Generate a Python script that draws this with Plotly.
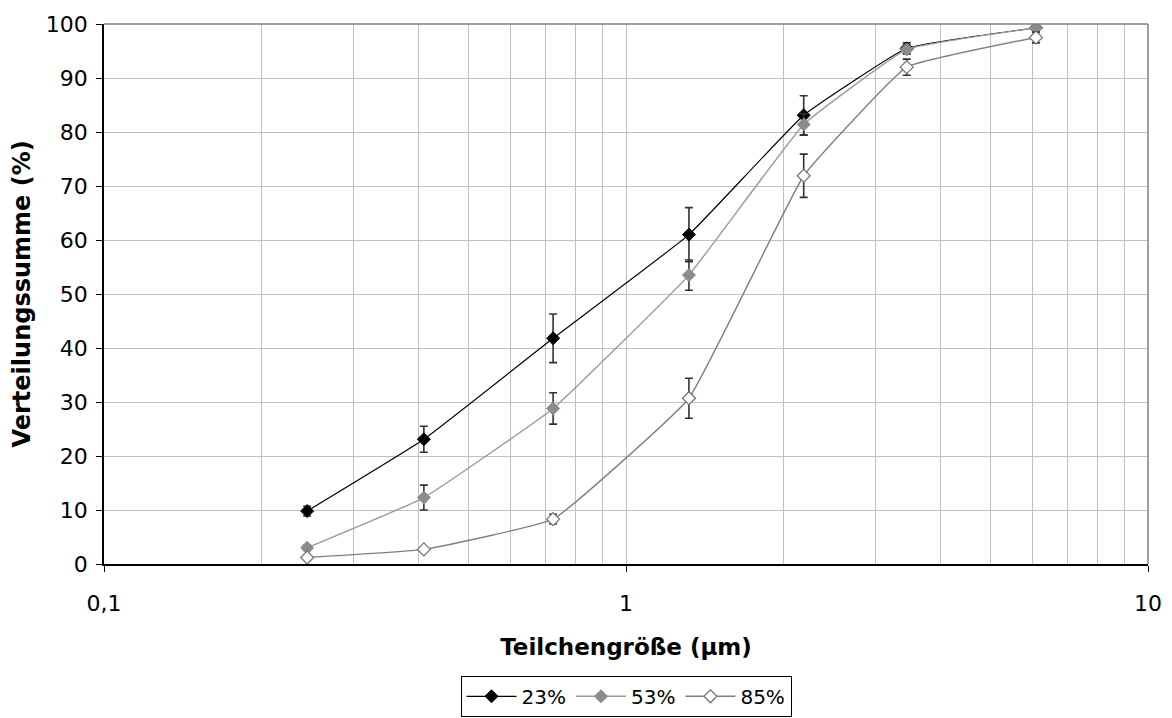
import plotly.graph_objects as go

sizes = [0.245, 0.41, 0.725, 1.32, 2.19, 3.45, 6.1]

s23 = [9.8, 23.1, 41.8, 61.0, 83.1, 95.5, 99.3]
e23 = [0.9, 2.4, 4.5, 5.0, 3.6, 1.0, 0.4]

s53 = [3.0, 12.3, 28.8, 53.5, 81.4, 95.3, 99.3]
e53 = [0.5, 2.3, 2.9, 2.8, 2.0, 0.8, 0.5]

s85 = [1.2, 2.7, 8.3, 30.7, 71.9, 92.0, 97.5]
e85 = [0.3, 0.3, 0.9, 3.7, 4.0, 1.5, 1.0]

names = ["23%", "53%", "85%"]
major_ticks = [0.1, 1, 10]
major_text = ["0,1", "1", "10"]
minor_ticks = [0.2, 0.3, 0.4, 0.5, 0.6, 0.7, 0.8, 0.9, 2, 3, 4, 5, 6, 7, 8, 9]
y_ticks = [0, 10, 20, 30, 40, 50, 60, 70, 80, 90, 100]

FONT = "DejaVu Sans"

styles = [
    dict(line=dict(color="black", width=1.2, shape="spline", smoothing=0.3),
         marker=dict(symbol="diamond", size=10, color="black", line=dict(color="black", width=1))),
    dict(line=dict(color="#9a9a9a", width=1.4, shape="spline", smoothing=0.3),
         marker=dict(symbol="diamond", size=10, color="#8c8c8c", line=dict(color="#8c8c8c", width=1))),
    dict(line=dict(color="#808080", width=1.4, shape="spline", smoothing=0.3),
         marker=dict(symbol="diamond", size=10, color="white", line=dict(color="#707070", width=1.2))),
]

fig = go.Figure()
for name, ys, es, st in zip(names, [s23, s53, s85], [e23, e53, e85], styles):
    fig.add_trace(go.Scatter(
        x=sizes, y=ys, name=name, mode="lines+markers",
        error_y=dict(type="data", array=es, visible=True, color="#333333", thickness=1.6, width=4),
        **st,
    ))

# page body adds an 8px offset; margins compensate
fig.update_layout(
    width=1164, height=710,
    margin=dict(l=96, r=24, t=16, b=154, autoexpand=False),
    paper_bgcolor="white", plot_bgcolor="white",
    font=dict(family=FONT, size=22, color="black"),
    showlegend=True,
    legend=dict(orientation="h", x=0.5, xanchor="center", y=-0.207, yanchor="top",
                bordercolor="black", borderwidth=1, font=dict(size=20),
                itemwidth=50, tracegroupgap=0, itemsizing="trace"),
)

fig.update_xaxes(
    type="log", range=[-1, 1], automargin=False,
    tickmode="array", tickvals=major_ticks, ticktext=major_text,
    ticks="outside", ticklen=6, tickcolor="black", ticklabelstandoff=13,
    tickfont=dict(size=22),
    showgrid=True, gridcolor="#c0c0c0", gridwidth=1,
    minor=dict(tickmode="array", tickvals=minor_ticks, showgrid=True, gridcolor="#c0c0c0", gridwidth=1, ticks=""),
    showline=True, linecolor="black", linewidth=1.5,
    zeroline=False,
    title=dict(text="<b>Teilchengröße (µm)</b>", font=dict(size=23), standoff=24),
)
fig.update_yaxes(
    range=[0, 100], tickmode="array", tickvals=y_ticks, automargin=False,
    ticks="outside", ticklen=6, tickcolor="black", ticklabelstandoff=4,
    tickfont=dict(size=22),
    showgrid=True, gridcolor="#c0c0c0", gridwidth=1,
    showline=True, linecolor="black", linewidth=1.5,
    zeroline=False,
)

fig.add_annotation(text="<b>Verteilungssumme (%)</b>", textangle=-90,
                   xref="paper", yref="paper", x=-0.079, y=0.5,
                   xanchor="center", yanchor="middle", showarrow=False,
                   font=dict(size=24, family=FONT, color="black"))

fig.add_shape(type="line", xref="x domain", yref="y domain", x0=0, x1=1, y0=1, y1=1,
              line=dict(color="#808080", width=1.5))
fig.add_shape(type="line", xref="x domain", yref="y domain", x0=1, x1=1, y0=0, y1=1,
              line=dict(color="#808080", width=1.5))

fig.write_html("out.html")
